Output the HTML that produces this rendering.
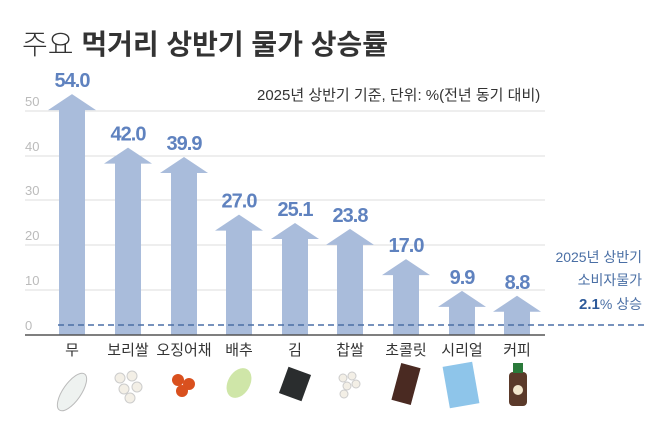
<!DOCTYPE html>
<html><head><meta charset="utf-8"><style>
body{margin:0;background:#fff;width:670px;height:420px;overflow:hidden;font-family:"Liberation Sans","Noto Sans CJK KR",sans-serif}
</style></head><body>
<svg width="670" height="420" xmlns="http://www.w3.org/2000/svg" font-family="Liberation Sans, Noto Sans CJK KR, sans-serif">
<text x="22" y="54" font-size="28" fill="#333"><tspan font-weight="300">주요 </tspan><tspan font-weight="bold">먹거리 상반기 물가 상승률</tspan></text>
<text x="257" y="100" font-size="15" fill="#333">2025년 상반기 기준, 단위: %(전년 동기 대비)</text>
<g stroke="#dcdcdc" stroke-width="1">
<line x1="25" x2="545" y1="111" y2="111"/><line x1="25" x2="545" y1="156" y2="156"/>
<line x1="25" x2="545" y1="200" y2="200"/><line x1="25" x2="545" y1="245" y2="245"/>
<line x1="25" x2="545" y1="290" y2="290"/></g>
<g font-size="13" fill="#bbb">
<text x="25" y="106">50</text><text x="25" y="151">40</text><text x="25" y="195">30</text>
<text x="25" y="240">20</text><text x="25" y="285">10</text><text x="25" y="330">0</text></g>
<g fill="#a9bcdb" id="bars"></g>
<line x1="25" x2="545" y1="335" y2="335" stroke="#555" stroke-width="1.5"/>
<line x1="58" x2="648" y1="325" y2="325" stroke="#4a6fa5" stroke-width="1.5" stroke-dasharray="6,4"/>
<g font-size="14" fill="#4a6fa5" text-anchor="end">
<text x="642" y="262">2025년 상반기</text><text x="642" y="285">소비자물가</text>
<text x="642" y="309"><tspan font-weight="bold" font-size="15" fill="#2d5a9a">2.1</tspan>% 상승</text></g>
<g font-size="15" fill="#333" text-anchor="middle">
<text x="72" y="355">무</text><text x="128" y="355">보리쌀</text><text x="184" y="355">오징어채</text>
<text x="239" y="355">배추</text><text x="295" y="355">김</text><text x="350" y="355">찹쌀</text>
<text x="406" y="355">초콜릿</text><text x="462" y="355">시리얼</text><text x="517" y="355">커피</text></g>
<ellipse cx="72" cy="392" rx="9" ry="22" transform="rotate(35 72 392)" fill="#eef2f0" stroke="#bbb"/>
<g fill="#f3efe6" stroke="#ccc"><circle cx="120" cy="378" r="5"/><circle cx="132" cy="376" r="5"/><circle cx="124" cy="389" r="5"/><circle cx="137" cy="387" r="5"/><circle cx="130" cy="398" r="5"/></g>
<g fill="#d9501e"><circle cx="178" cy="380" r="6"/><circle cx="189" cy="384" r="6"/><circle cx="182" cy="391" r="6"/></g>
<ellipse cx="239" cy="383" rx="11" ry="16" transform="rotate(30 239 383)" fill="#cfe6a8"/>
<rect x="283" y="370" width="24" height="28" transform="rotate(20 295 384)" fill="#2a2d2e"/>
<g fill="#f3efe6" stroke="#ccc"><circle cx="343" cy="378" r="4"/><circle cx="352" cy="376" r="4"/><circle cx="347" cy="386" r="4"/><circle cx="356" cy="384" r="4"/><circle cx="344" cy="394" r="4"/></g>
<rect x="396" y="365" width="20" height="38" transform="rotate(15 406 384)" fill="#4a2a22"/>
<rect x="446" y="364" width="30" height="42" transform="rotate(-10 461 385)" fill="#8ec5ea"/>
<rect x="509" y="372" width="18" height="34" rx="4" fill="#5b3a2a"/><rect x="513" y="363" width="10" height="10" fill="#2a7a3a"/>
<circle cx="518" cy="390" r="5" fill="#f2e6cc"/>
<g font-size="20" font-weight="bold" fill="#5f82bf" text-anchor="middle" letter-spacing="-1" id="vals"></g>
<script>
var d=[54,42,39.9,27,25.1,23.8,17,9.9,8.8],cx=[72,128,184,239,295,350,406,462,517];
var g=document.getElementById('bars'),v=document.getElementById('vals'),ns='http://www.w3.org/2000/svg';
d.forEach(function(x,i){var t=335-x*4.46,c=cx[i];
var p=document.createElementNS(ns,'polygon');
p.setAttribute('points',[c,t,c+24,t+16,c+13,t+16,c+13,335,c-13,335,c-13,t+16,c-24,t+16].join(' ').replace(/(\S+) (\S+)/g,'$1,$2'));
g.appendChild(p);
var s=document.createElementNS(ns,'text');s.setAttribute('x',c);s.setAttribute('y',t-7);s.textContent=x.toFixed(1);v.appendChild(s);});
</script>
</svg>
</body></html>
